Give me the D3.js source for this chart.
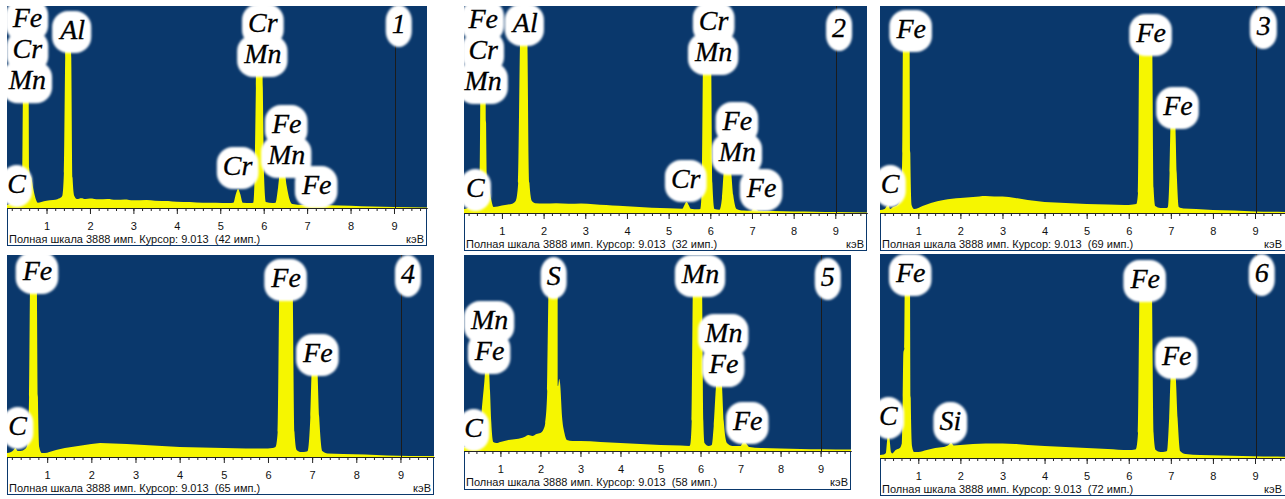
<!DOCTYPE html>
<html><head><meta charset="utf-8">
<script src="https://cdn.jsdelivr.net/npm/d3@7"></script>
<style>body{margin:0;background:#fff}svg{display:block}</style>
</head><body>
<svg id="c" width="1285" height="499"></svg>
<script>
// ---------- DATA ----------
const tickLabels = [1,2,3,4,5,6,7,8,9];
const energyDomain = [0.09, 9.76];
const fullScale = 3888;
const cursorKeV = 9.013;
const cursorCounts = [42, 32, 69, 65, 58, 72];
const panelNumbers = ["1","2","3","4","5","6"];

const spec1 = [[0.09,60],[0.15,75],[0.22,120],[0.28,175],[0.33,130],[0.38,150],[0.42,230],[0.44,580],[0.455,2120],[0.47,3700],[0.57,3700],[0.59,2020],[0.60,770],[0.62,635],[0.65,580],[0.70,350],[0.76,155],[0.80,100],[0.88,115],[1.0,140],[1.15,155],[1.25,170],[1.32,195],[1.36,230],[1.40,675],[1.43,2890],[1.45,3700],[1.55,3700],[1.57,2890],[1.60,580],[1.64,230],[1.70,175],[1.8,190],[1.9,175],[2.0,185],[2.2,170],[2.4,175],[2.6,160],[2.8,165],[3.0,150],[3.3,155],[3.5,140],[3.8,135],[4.0,120],[4.3,115],[4.6,100],[4.9,100],[5.2,95],[5.30,100],[5.36,270],[5.41,366],[5.46,270],[5.52,100],[5.70,95],[5.76,100],[5.79,580],[5.82,2310],[5.84,3700],[5.96,3700],[5.98,2310],[6.01,580],[6.05,115],[6.20,95],[6.27,100],[6.33,385],[6.38,720],[6.47,760],[6.53,424],[6.60,154],[6.66,77],[6.90,60],[6.98,60],[7.04,116],[7.10,96],[7.16,58],[7.5,55],[8.0,45],[8.5,30],[9.0,20],[9.76,10]];

const spec2 = [[0.09,75],[0.18,94],[0.24,150],[0.30,94],[0.38,113],[0.43,188],[0.47,751],[0.50,3700],[0.60,3700],[0.62,1690],[0.64,601],[0.68,526],[0.74,263],[0.80,113],[0.90,120],[1.0,140],[1.15,160],[1.25,175],[1.33,225],[1.39,563],[1.45,3700],[1.60,3700],[1.66,563],[1.72,225],[1.8,185],[2.0,180],[2.3,185],[2.6,175],[2.9,180],[3.2,165],[3.5,150],[3.8,135],[4.2,118],[4.6,100],[5.0,88],[5.33,80],[5.38,150],[5.43,207],[5.48,150],[5.53,80],[5.70,70],[5.76,75],[5.80,563],[5.84,3700],[6.01,3700],[6.05,563],[6.10,75],[6.22,60],[6.28,282],[6.34,880],[6.48,880],[6.55,338],[6.63,75],[6.80,45],[6.98,40],[7.04,94],[7.10,75],[7.16,40],[7.5,38],[8.0,28],[8.5,24],[9.0,19],[9.76,10]];

const spec3 = [[0.09,56],[0.20,75],[0.25,131],[0.29,150],[0.33,75],[0.40,113],[0.50,150],[0.58,263],[0.62,1127],[0.64,3700],[0.79,3700],[0.81,1127],[0.84,150],[0.90,75],[1.0,94],[1.1,131],[1.3,188],[1.6,244],[1.8,270],[2.0,282],[2.3,300],[2.6,319],[2.8,310],[3.0,310],[3.3,282],[3.6,244],[4.0,207],[4.5,188],[5.0,169],[5.5,160],[5.9,150],[6.1,160],[6.18,169],[6.22,376],[6.26,3700],[6.55,3700],[6.59,470],[6.63,131],[6.75,94],[6.90,94],[6.93,113],[6.97,751],[7.00,1750],[7.10,1750],[7.14,751],[7.19,113],[7.3,85],[7.6,75],[8.0,56],[8.5,47],[9.0,28],[9.76,19]];

const spec4 = [[0.09,77],[0.18,96],[0.24,135],[0.28,173],[0.33,116],[0.40,116],[0.50,154],[0.55,231],[0.59,1155],[0.62,3700],[0.76,3700],[0.79,1155],[0.82,193],[0.88,77],[0.95,77],[1.05,96],[1.2,135],[1.4,173],[1.7,212],[2.0,250],[2.2,270],[2.5,260],[2.8,250],[3.2,231],[3.6,212],[4.0,193],[4.5,183],[5.0,173],[5.5,164],[6.0,164],[6.1,173],[6.17,193],[6.22,481],[6.27,3700],[6.55,3700],[6.60,481],[6.65,135],[6.75,96],[6.88,106],[6.90,116],[6.96,770],[7.00,1760],[7.11,1760],[7.16,770],[7.23,116],[7.35,67],[7.7,58],[8.2,48],[8.7,29],[9.2,19],[9.76,19]];

const spec5 = [[0.09,79],[0.15,89],[0.25,139],[0.33,40],[0.42,89],[0.48,198],[0.52,675],[0.60,1389],[0.64,1780],[0.70,1780],[0.74,1190],[0.77,595],[0.82,179],[0.90,159],[1.0,179],[1.2,218],[1.4,238],[1.6,278],[1.7,317],[1.8,298],[1.9,337],[2.0,357],[2.08,436],[2.12,556],[2.17,1190],[2.22,3700],[2.43,3700],[2.44,1290],[2.47,1428],[2.49,1349],[2.54,675],[2.60,357],[2.66,218],[2.8,198],[3.0,198],[3.5,179],[4.0,159],[4.5,139],[5.0,119],[5.5,109],[5.72,99],[5.74,119],[5.78,595],[5.82,3700],[6.03,3700],[6.07,595],[6.10,159],[6.20,99],[6.28,119],[6.33,496],[6.40,1389],[6.45,1530],[6.52,1460],[6.58,595],[6.66,159],[6.80,99],[7.0,99],[7.05,159],[7.10,188],[7.15,139],[7.22,79],[7.5,60],[8.0,50],[8.5,40],[9.0,34],[9.76,30]];

const spec6 = [[0.09,57],[0.18,67],[0.23,95],[0.26,343],[0.29,496],[0.32,343],[0.35,114],[0.38,86],[0.46,152],[0.56,191],[0.61,286],[0.63,1144],[0.645,2001],[0.67,2097],[0.685,3700],[0.80,3700],[0.82,1144],[0.85,229],[0.90,114],[1.0,114],[1.2,152],[1.4,191],[1.6,210],[1.72,248],[1.78,295],[1.84,238],[2.0,248],[2.3,267],[2.6,276],[3.0,276],[3.3,267],[3.6,248],[4.0,229],[4.5,210],[5.0,191],[5.5,172],[6.0,152],[6.15,162],[6.17,172],[6.22,477],[6.27,3700],[6.54,3700],[6.59,477],[6.64,152],[6.75,114],[6.88,124],[6.91,133],[6.96,762],[7.00,1560],[7.11,1560],[7.16,762],[7.22,133],[7.35,76],[7.7,57],[8.2,48],[8.7,38],[9.2,29],[9.76,25]];

// peak labels: element lines, energy (keV) and height (counts) of first baseline
const labels1 = [{t:["Fe","Cr","Mn"],e:0.56,c:3480},{t:["Al"],e:1.60,c:3253},{t:["Cr","Mn"],e:5.98,c:3388},{t:["Cr"],e:5.40,c:635},{t:["Fe","Mn"],e:6.53,c:1444},{t:["Fe"],e:7.22,c:270},{t:["C"],e:0.31,c:289}];
const labels2 = [{t:["Fe","Cr","Mn"],e:0.55,c:3474},{t:["Al"],e:1.56,c:3399},{t:["Cr","Mn"],e:6.08,c:3437},{t:["Cr"],e:5.41,c:470},{t:["Fe","Mn"],e:6.65,c:1559},{t:["Fe"],e:7.23,c:300},{t:["C"],e:0.36,c:300}];
const labels3 = [{t:["Fe"],e:0.83,c:3287},{t:["Fe"],e:6.53,c:3211},{t:["Fe"],e:7.17,c:1840},{t:["C"],e:0.33,c:376}];
const labels4 = [{t:["Fe"],e:0.78,c:3407},{t:["Fe"],e:6.41,c:3272},{t:["Fe"],e:7.13,c:1829},{t:["C"],e:0.33,c:424}];
const labels5 = [{t:["Mn","Fe"],e:0.73,c:2420},{t:["S"],e:2.33,c:3293},{t:["Mn"],e:6.0,c:3333},{t:["Mn","Fe"],e:6.58,c:2160},{t:["Fe"],e:7.18,c:417},{t:["C"],e:0.33,c:278}];
const labels6 = [{t:["Fe"],e:0.82,c:3355},{t:["Fe"],e:6.39,c:3240},{t:["Fe"],e:7.14,c:1773},{t:["C"],e:0.29,c:629},{t:["Si"],e:1.76,c:534}];
// panel-number labels near the cursor
const numberCounts = [3369, 3305, 3343, 3350, 3274, 3355];
const numberKeV = [9.11, 9.09, 9.21, 9.17, 9.18, 9.16];

const spectra = [spec1, spec2, spec3, spec4, spec5, spec6];
const labelSets = [labels1, labels2, labels3, labels4, labels5, labels6];

// ---------- LAYOUT / STYLE ----------
const layout = [
  {x0:7,   x1:427,  y0:6,   axis:208, bottom:246},
  {x0:464, x1:867,  y0:6,   axis:213, bottom:251},
  {x0:880, x1:1287, y0:6,   axis:213, bottom:251},
  {x0:7,   x1:434,  y0:255, axis:457, bottom:495},
  {x0:464, x1:851,  y0:255, axis:451, bottom:490},
  {x0:880, x1:1287, y0:254, axis:458, bottom:496}
];
const BLUE = "#0a386c", YELLOW = "#f6f600";
const FS = 28, GAP = 31;
const SERIF = "'Liberation Serif'";
const SANS = "'Liberation Sans'";

const svg = d3.select("#c");
const defs = svg.append("defs");
defs.append("filter").attr("id","soft").attr("x","-30%").attr("y","-30%").attr("width","160%").attr("height","160%")
  .append("feGaussianBlur").attr("stdDeviation",1.3);

layout.forEach((L, i) => {
  const g = svg.append("g");
  const x = d3.scaleLinear().domain(energyDomain).range([L.x0, L.x1]);
  const y = d3.scaleLinear().domain([0, fullScale]).range([L.axis, L.y0]);

  g.append("rect").attr("x", L.x0 + 0.5).attr("y", L.y0 + 0.5)
    .attr("width", L.x1 - L.x0 - 1).attr("height", L.bottom - L.y0 - 1)
    .attr("fill", "#fff").attr("stroke", BLUE);
  g.append("rect").attr("x", L.x0).attr("y", L.y0)
    .attr("width", L.x1 - L.x0).attr("height", L.axis - L.y0).attr("fill", BLUE);

  const cid = "clip" + i;
  defs.append("clipPath").attr("id", cid).append("rect")
    .attr("x", L.x0).attr("y", L.y0).attr("width", L.x1 - L.x0).attr("height", L.axis - L.y0);

  const area = d3.area().x(d => x(d[0])).y0(y(0)).y1(d => y(d[1])).curve(d3.curveMonotoneX);
  g.append("path").datum(spectra[i]).attr("clip-path", `url(#${cid})`)
    .attr("fill", YELLOW).attr("d", area);

  g.append("line").attr("x1", Math.round(x(cursorKeV)) + 0.5).attr("x2", Math.round(x(cursorKeV)) + 0.5)
    .attr("y1", y(fullScale)).attr("y2", y(0)).attr("stroke", "#1b1b1b").attr("stroke-width", 1);

  // labels: one text element per label, lines as tspans
  const all = labelSets[i].concat([{t:[panelNumbers[i]], e:numberKeV[i], c:numberCounts[i]}]);
  const bubbles = g.append("g").attr("filter", "url(#soft)");
  const texts = g.append("g");
  all.forEach(lab => {
    const tx = texts.append("text")
      .attr("text-anchor", "middle")
      .style("font-family", SERIF).style("font-style", "italic").style("font-size", FS + "px")
      .attr("fill", "#000").attr("stroke", "#000").attr("stroke-width", 0.3);
    const spans = lab.t.map((s, k) => tx.append("tspan")
      .attr("x", x(lab.e)).attr("y", y(lab.c) + k * GAP).text(s));
    spans.forEach(sp => {
      const n = sp.node();
      let b;
      try { b = n.getBBox(); } catch (e) { b = null; }
      if (!b || !b.width) {
        const len = n.getComputedTextLength();
        b = {x: x(lab.e) - len / 2, y: +sp.attr("y") - FS * 0.9, width: len, height: FS * 1.1};
      }
      bubbles.append("rect").attr("x", b.x - 6).attr("y", b.y - 3)
        .attr("width", b.width + 12).attr("height", b.height + 11)
        .attr("rx", 16).attr("ry", 16).attr("fill", "#fff");
    });
  });

  // axes
  const ax = g.append("g").attr("transform", `translate(0,${L.axis})`);
  ax.call(d3.axisBottom(x).tickValues(x.ticks(48)).tickSize(3).tickSizeOuter(0).tickFormat(""));
  ax.append("g").call(d3.axisBottom(x).tickValues(tickLabels).tickSize(6).tickSizeOuter(0).tickPadding(8).tickFormat(d3.format("d")));
  ax.selectAll(".domain").attr("stroke", "#222");
  ax.selectAll(".tick line").attr("stroke", "#222");
  ax.selectAll(".tick text").attr("font-family", null).style("font-family", SANS).style("font-size", "11px").attr("fill", "#111");

  g.append("text").attr("x", L.x0 + 2).attr("y", L.axis + 35)
    .style("font-family", SANS).style("font-size", "11px").attr("fill", "#111").style("white-space", "pre")
    .text(`Полная шкала ${fullScale} имп. Курсор: ${cursorKeV.toFixed(3)}  (${cursorCounts[i]} имп.)`);
  g.append("text").attr("x", Math.min(L.x1, 1285) - 3).attr("y", L.axis + 35).attr("text-anchor", "end")
    .style("font-family", SANS).style("font-size", "11px").attr("fill", "#111").text("кэВ");
});
</script>
</body></html>
